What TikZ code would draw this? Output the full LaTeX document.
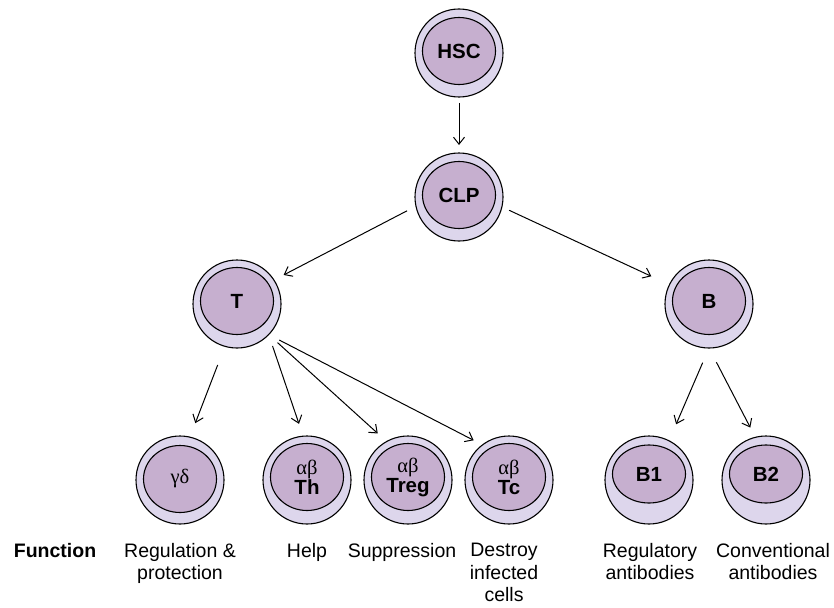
\documentclass[tikz,border=0pt]{standalone}
\usepackage{fontspec}
\setmainfont{Liberation Sans}
\newfontfamily\grk{Liberation Serif}
\usetikzlibrary{arrows.meta,shapes.geometric,calc}
\definecolor{ringcol}{RGB}{221,214,236}
\definecolor{corecol}{RGB}{198,175,207}
\tikzset{
  x=1pt,y=-1pt,
  outercell/.style={circle,draw=black,line width=1.1pt,fill=ringcol,minimum size=88pt,inner sep=0pt,outer sep=0pt},
  innercell/.style={ellipse,draw=black,line width=1.1pt,fill=corecol,minimum width=73pt,minimum height=67pt,inner sep=0pt,align=center,font=\fontsize{20.5}{23}\selectfont\bfseries},
  flatcell/.style={innercell,minimum height=58pt},
  arr/.style={line width=1pt,-{Straight Barb[length=7pt,width=11pt]}},
  lbl/.style={anchor=north,inner sep=0pt,align=center,font=\fontsize{19.5}{22.5}\selectfont}
}
\begin{document}
\begin{tikzpicture}
\useasboundingbox (0,0) rectangle (834,607);
% outer rings
\node[outercell] (HSC) at (459,53) {};
\node[outercell] (CLP) at (459,197) {};
\node[outercell] (T) at (237,304) {};
\node[outercell] (B) at (709,304) {};
\node[outercell] (GD) at (180,480) {};
\node[outercell] (Th) at (307,480) {};
\node[outercell] (Treg) at (408,480) {};
\node[outercell] (Tc) at (509,480) {};
\node[outercell] (B1) at (649,480) {};
\node[outercell] (B2) at (766,480) {};
% inner cores
\node[innercell] (HSCi) at (459,51) {HSC};
\node[innercell] (CLPi) at (459,195) {CLP};
\node[innercell] (Ti) at (237,301) {T};
\node[innercell] (Bi) at (709,301) {B};
\node[innercell] (GDi) at (180,479) {\mdseries\grk γδ};
\node[innercell] (Thi) at (307,477) {\mdseries\grk αβ\\[-3pt]Th};
\node[innercell] (Tregi) at (408,477) {\mdseries\grk αβ\\[-3pt]Treg};
\node[innercell] (Tci) at (509,477) {\mdseries\grk αβ\\[-3pt]Tc};
\node[flatcell] (B1i) at (649,474) {B1};
\node[flatcell] (B2i) at (766,474) {B2};
% connectors
\draw[arr,shorten <=6pt,shorten >=8pt] (HSC.south) -- (CLP.north);
\draw[arr,shorten <=10pt,shorten >=11pt] (CLP.192) -- (T.33);
\draw[arr,shorten <=8pt,shorten >=20pt] (CLP.-13) -- (B.154);
\draw[arr,shorten <=20pt,shorten >=15pt] (T.254) -- (GD.77);
\draw[arr,shorten <=12pt,shorten >=13pt] (T.-44) -- (Th.95);
\draw[arr,shorten <=12pt,shorten >=12pt] (T.-44) -- (Treg.119);
\draw[arr,shorten <=12pt,shorten >=10pt] (T.-44) -- (Tc.127);
\draw[arr,shorten <=16pt,shorten >=18pt] (B.south) -- (B1.63);
\draw[arr,shorten <=16pt,shorten >=11pt] (B.south) -- (B2.104);
% labels
\node[lbl,font=\fontsize{19.5}{22.5}\selectfont\bfseries] (fn) at (55,543) {Function};
\node[lbl] (l1) at (180,543) {Regulation \&\\protection};
\node[lbl] (l2) at (307,543) {Help};
\node[lbl] (l3) at (402,543) {Suppression};
\node[lbl] (l4) at (504,543) {Destroy\\infected\\cells};
\node[lbl] (l5) at (650,543) {Regulatory\\antibodies};
\node[lbl] (l6) at (773,543) {Conventional\\antibodies};
\end{tikzpicture}
\end{document}
